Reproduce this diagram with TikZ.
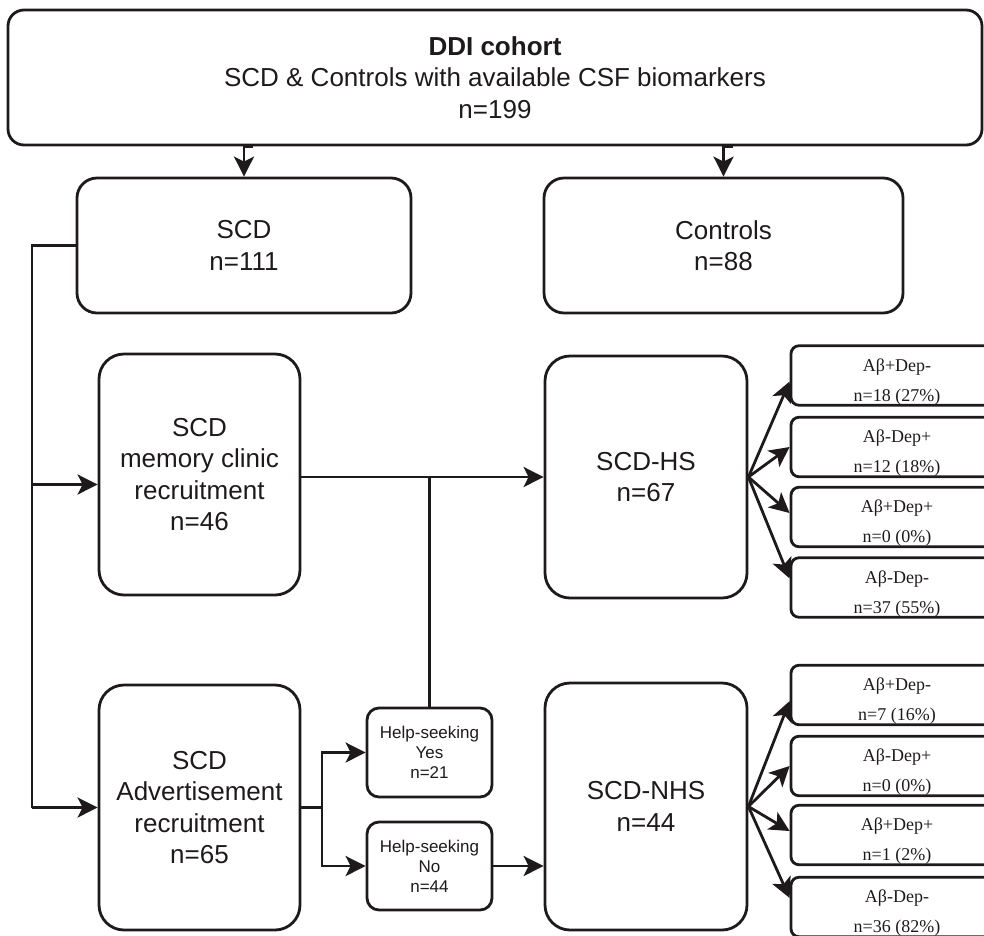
\documentclass[tikz,border=0pt]{standalone}
\usepackage{fontspec}
\setmainfont{Liberation Sans}
\newfontfamily\serifbox{Liberation Serif}
\usetikzlibrary{arrows.meta,calc}
\definecolor{ink}{HTML}{1E1A1B}

\begin{document}
\begin{tikzpicture}[x=1pt,y=-1pt,
  ln/.style={line width=2.8pt, draw=ink},
  arr/.style={ln, -{Stealth[length=20pt,width=20pt,inset=5pt]}},
  box/.style={ln, rounded corners=20pt, inner sep=0pt, align=center, text=ink,
    font=\fontsize{26}{31.5}\selectfont},
  smallbox/.style={ln, rounded corners=12pt, inner sep=0pt, align=center, text=ink,
    font=\fontsize{17}{20}\selectfont},
  catbox/.style={ln, rounded corners=8pt, inner sep=0pt, minimum width=212pt},
  cattext/.style={inner sep=0pt, align=center, text=ink,
    font=\serifbox\fontsize{18}{30}\selectfont}
]
\useasboundingbox (0,0) rectangle (984,935);

% main boxes
\node[box, rounded corners=16pt, minimum width=974pt, minimum height=135pt] (top) at (495,77.5)
  {\textbf{DDI cohort}\\SCD \& Controls with available CSF biomarkers\\n=199};
\node[box, minimum width=334pt, minimum height=135pt] (scd) at (244,245.5) {SCD\\n=111};
\node[box, minimum width=359pt, minimum height=135pt] (ctrl) at (723.5,245.5) {Controls\\n=88};
\node[box, rounded corners=25pt, minimum width=201pt, minimum height=241pt] (mem) at (199.5,474.5)
  {SCD\\memory clinic\\recruitment\\n=46};
\node[box, rounded corners=25pt, minimum width=201pt, minimum height=245pt] (adv) at (199.5,807.5)
  {SCD\\Advertisement\\recruitment\\n=65};
\node[box, rounded corners=25pt, minimum width=202pt, minimum height=242pt] (hs) at (646,477) {SCD-HS\\n=67};
\node[box, rounded corners=25pt, minimum width=202pt, minimum height=247pt] (nhs) at (646,806.5) {SCD-NHS\\n=44};

% help-seeking split
\node[smallbox, minimum width=125pt, minimum height=89pt] (yes) at (429.5,752.5) {Help-seeking\\Yes\\n=21};
\node[smallbox, minimum width=125pt, minimum height=88pt] (no) at (429.5,866) {Help-seeking\\No\\n=44};

% biomarker categories (boxes run past the right edge)
\begin{scope}
\clip (0,0) rectangle (984,935);
\foreach \nm/\cy/\ta/\tb in {
  h1/375.5/Aβ+Dep-/n=18 (27\%),
  h2/447/Aβ-Dep+/n=12 (18\%),
  h3/517/Aβ+Dep+/n=0 (0\%),
  h4/587.5/Aβ-Dep-/n=37 (55\%),
  n1/695/Aβ+Dep-/n=7 (16\%),
  n2/766/Aβ-Dep+/n=0 (0\%),
  n3/835/Aβ+Dep+/n=1 (2\%),
  n4/907/Aβ-Dep-/n=36 (82\%)} {
  \node[catbox, minimum height=59.5pt] (\nm) at (897,\cy) {};
  \node[cattext] (\nm t) at ([yshift=-6.5pt]\nm.center) {\ta\\\tb};
}
\end{scope}

% connectors
\draw[arr] ([xshift=9pt]top.south -| scd.north) -- (top.south -| scd.north) -- (scd.north);
\draw[arr] ([xshift=9pt]top.south -| ctrl.north) -- (top.south -| ctrl.north) -- (ctrl.north);

\coordinate (trunk) at (32,0);
\draw[ln] (scd.west) -| (trunk |- adv.west);
\draw[arr] (trunk |- adv.west) -- (adv.west);
\draw[arr] ([yshift=-10pt]mem.west -| trunk) -- ([yshift=-10pt]mem.west);

\draw[arr] (hs.west -| mem.east) -- (hs.west);
\draw[ln] (yes.north) -- (yes.north |- hs.west);

\coordinate (branch) at (322,0);
\draw[ln] (adv.east) -- (adv.east -| branch);
\draw[arr] (adv.east -| branch) |- (yes.west);
\draw[arr] (adv.east -| branch) |- (no.west);
\draw[arr] (no.east) -- (no.east -| nhs.west);

\draw[arr] (hs.east) -- ([yshift=-6pt]h1.west);
\draw[arr] (hs.east) -- (h2.west);
\draw[arr] (hs.east) -- ([yshift=4pt]h3.west);
\draw[arr] (hs.east) -- ([yshift=9pt]h4.west);
\draw[arr] (nhs.east) -- ([yshift=-6pt]n1.west);
\draw[arr] (nhs.east) -- (n2.west);
\draw[arr] (nhs.east) -- ([yshift=4pt]n3.west);
\draw[arr] (nhs.east) -- ([yshift=9pt]n4.west);
\end{tikzpicture}
\end{document}
